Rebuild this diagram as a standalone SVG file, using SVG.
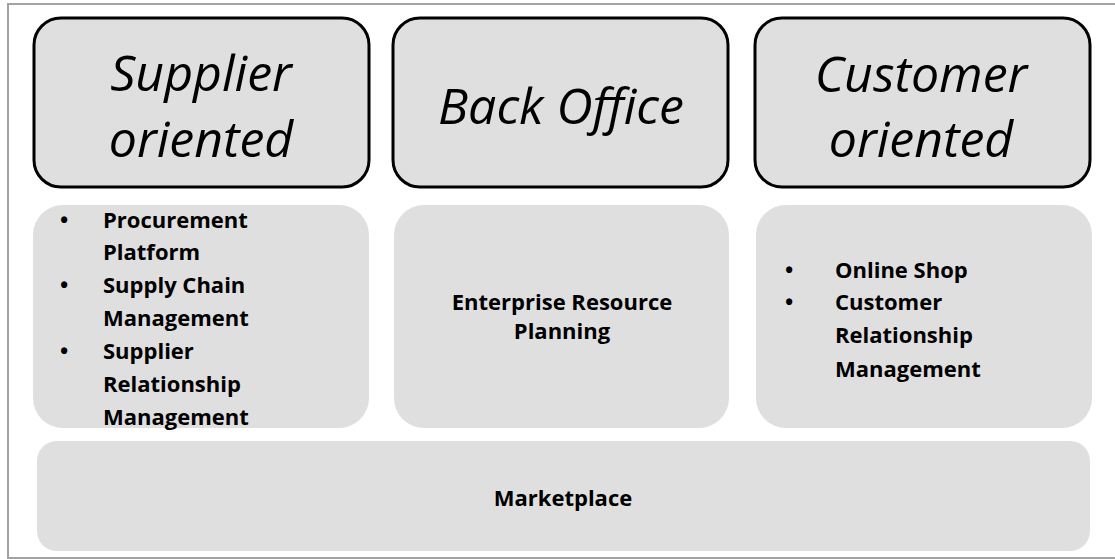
<svg xmlns="http://www.w3.org/2000/svg" width="1115" height="559" viewBox="0 0 1115 559">
<style>
.frame{fill:#ffffff;stroke:#a3a3a3;stroke-width:2}
.head{fill:#dfdfdf;stroke:#000;stroke-width:3}
.body{fill:#dfdfdf;stroke:none}
.ht{font-family:"Open Sans","Liberation Sans",sans-serif;font-style:italic;font-size:50px;fill:#000;text-anchor:middle}
.bt{font-family:"Open Sans","Liberation Sans",sans-serif;font-weight:bold;font-size:22px;fill:#000}
.c{text-anchor:middle}
</style>
<rect class="frame" x="8" y="4" width="1120" height="554"/>
<g id="supplier-head">
<rect class="head" x="34" y="18" width="335" height="169" rx="27"/>
<text class="ht" x="201" y="91">Supplier</text>
<text class="ht" x="201" y="157">oriented</text>
</g>
<g id="backoffice-head">
<rect class="head" x="393" y="18" width="335" height="169" rx="27"/>
<text class="ht" x="561" y="124">Back Office</text>
</g>
<g id="customer-head">
<rect class="head" x="755" y="18" width="335" height="169" rx="27"/>
<text class="ht" x="921" y="92">Customer</text>
<text class="ht" x="921" y="157">oriented</text>
</g>
<g id="supplier-body">
<rect class="body" x="33" y="205" width="336" height="223" rx="30"/>
<text class="bt" x="60" y="228">•</text>
<text class="bt" x="103" y="228">Procurement</text>
<text class="bt" x="103" y="260">Platform</text>
<text class="bt" x="60" y="293">•</text>
<text class="bt" x="103" y="293">Supply Chain</text>
<text class="bt" x="103" y="326">Management</text>
<text class="bt" x="60" y="359">•</text>
<text class="bt" x="103" y="359">Supplier</text>
<text class="bt" x="103" y="392">Relationship</text>
<text class="bt" x="103" y="425">Management</text>
</g>
<g id="backoffice-body">
<rect class="body" x="394" y="205" width="335" height="223" rx="30"/>
<text class="bt c" x="562" y="310">Enterprise Resource</text>
<text class="bt c" x="562" y="339">Planning</text>
</g>
<g id="customer-body">
<rect class="body" x="756" y="205" width="336" height="223" rx="30"/>
<text class="bt" x="785" y="278">•</text>
<text class="bt" x="835" y="278">Online Shop</text>
<text class="bt" x="785" y="310">•</text>
<text class="bt" x="835" y="310">Customer</text>
<text class="bt" x="835" y="343">Relationship</text>
<text class="bt" x="835" y="377">Management</text>
</g>
<g id="marketplace">
<rect class="body" x="37" y="441" width="1053" height="110" rx="20"/>
<text class="bt c" x="563" y="506">Marketplace</text>
</g>
<g id="connectors"/>
</svg>
